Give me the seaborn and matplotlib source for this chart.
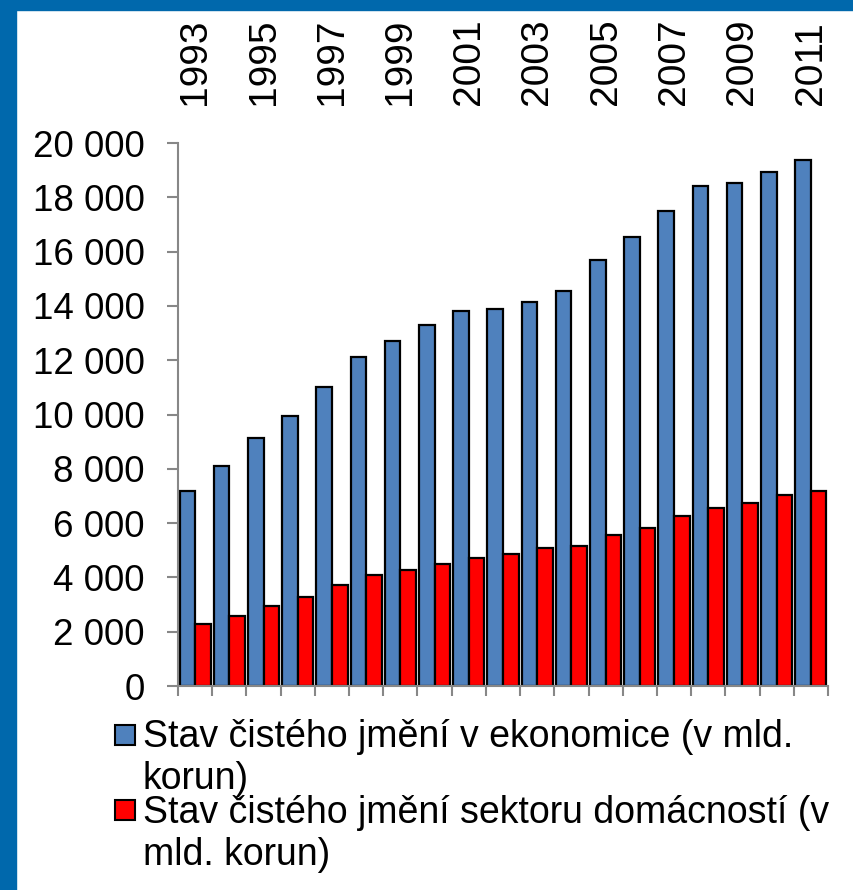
import matplotlib
matplotlib.use("Agg")
import matplotlib.pyplot as plt
from matplotlib.patches import Rectangle
import pandas as pd
import seaborn as sns

# data (mld. Kč)
years = [1993, 1994, 1995, 1996, 1997, 1998, 1999, 2000, 2001, 2002,
         2003, 2004, 2005, 2006, 2007, 2008, 2009, 2010, 2011]
ekonomika = [7190, 8110, 9130, 9960, 11030, 12120, 12700, 13300, 13810, 13880,
             14140, 14550, 15680, 16530, 17480, 18420, 18510, 18930, 19360]
domacnosti = [2290, 2560, 2950, 3280, 3730, 4080, 4270, 4490, 4710, 4870,
              5070, 5170, 5570, 5830, 6260, 6560, 6730, 7040, 7200]

series_names = ["Stav čistého jmění v ekonomice (v mld. korun)",
                "Stav čistého jmění sektoru domácností (v mld. korun)"]
# legend text as wrapped in the original
legend_lines = [["Stav čistého jmění v ekonomice (v mld.", "korun)"],
                ["Stav čistého jmění sektoru domácností (v", "mld. korun)"]]
colors = ["#4F81BD", "#FF0000"]
yticks = [0, 2000, 4000, 6000, 8000, 10000, 12000, 14000, 16000, 18000, 20000]

df = pd.DataFrame({
    "rok": years * 2,
    "hodnota": ekonomika + domacnosti,
    "rada": [series_names[0]] * len(years) + [series_names[1]] * len(years),
})

sns.set_style("white")
plt.rcParams["font.family"] = ["Liberation Sans", "DejaVu Sans"]
plt.rcParams["text.color"] = "black"
plt.rcParams["xtick.labelcolor"] = "black"
plt.rcParams["ytick.labelcolor"] = "black"

fig = plt.figure(figsize=(8.54, 8.90), dpi=100)
W, H = 854, 890
ax = fig.add_axes([178 / W, 1 - 686 / H, (828 - 178) / W, (686 - 143) / H])

sns.barplot(data=df, x="rok", y="hodnota", hue="rada", palette=colors,
            width=0.91, edgecolor="black", linewidth=1.6, saturation=1,
            legend=False, ax=ax)

# blue frame (left and top)
fig.patches.append(Rectangle((0, 0), 16 / W, 1, transform=fig.transFigure,
                             color="#0068AC", zorder=10))
fig.patches.append(Rectangle((0, 1 - 10 / H), 1, 10 / H, transform=fig.transFigure,
                             color="#0068AC", zorder=10))

ax.set_xlim(-0.5, len(years) - 0.5)
ax.set_ylim(0, 20000)
ax.set_xlabel("")
ax.set_ylabel("")

# y axis
ax.set_yticks(yticks)
ax.set_yticklabels([f"{v:,}".replace(",", " ") for v in yticks])
ax.tick_params(axis="y", left=True, length=8, width=1.5, color="#878787",
               pad=16, labelsize=26.5, labelcolor="black")

# years on top, every other one
pos = list(range(0, len(years), 2))
ax.set_xticks(pos)
ax.set_xticklabels([str(years[i]) for i in pos], rotation=90)
ax.tick_params(axis="x", which="major", bottom=False, top=False,
               labelbottom=False, labeltop=True, pad=24, labelsize=28,
               labelcolor="black")
ax.set_xticks([i - 0.5 for i in range(len(years) + 1)], minor=True)
ax.tick_params(axis="x", which="minor", bottom=True, length=7, width=1.5,
               color="#878787", direction="out")

for s in ["top", "right"]:
    ax.spines[s].set_visible(False)
for s in ["left", "bottom"]:
    ax.spines[s].set_color("#878787")
    ax.spines[s].set_linewidth(1.5)

# legend below the plot, drawn by hand to keep the wrapped lines
key_tops = [725, 800]
baselines = [[747, 789], [823, 865]]
for c, top, lines, bl in zip(colors, key_tops, legend_lines, baselines):
    fig.patches.append(Rectangle((115 / W, 1 - (top + 20) / H), 20 / W, 20 / H,
                                 transform=fig.transFigure, facecolor=c,
                                 edgecolor="black", linewidth=1.5))
    for txt, y in zip(lines, bl):
        fig.text(143 / W, 1 - y / H, txt, fontsize=27, va="baseline",
                 ha="left", color="black")

fig.savefig("out.png", dpi=100, facecolor="white")
